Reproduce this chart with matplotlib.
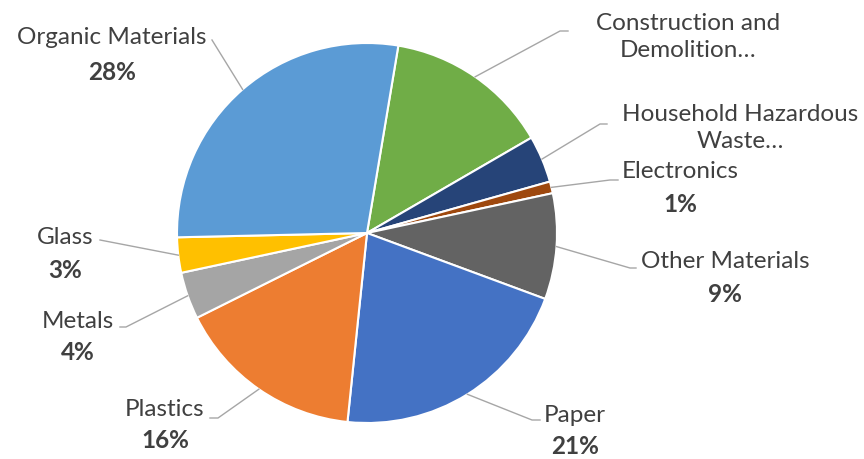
import numpy as np
import matplotlib
matplotlib.use('Agg')
from matplotlib import pyplot as plt

# 数据 (顺时针, 从 Construction 开始)
categories = ['Construction and\nDemolition\u2026', 'Household Hazardous\nWaste\u2026',
              'Electronics', 'Other Materials', 'Paper', 'Plastics',
              'Metals', 'Glass', 'Organic Materials']
values = [14, 4, 1, 9, 21, 16, 4, 3, 28]
pct_labels = ['', '', '1%', '9%', '21%', '16%', '4%', '3%', '28%']
colors = ['#70AD47', '#264478', '#9E480E', '#636363', '#4472C4',
          '#ED7D31', '#A5A5A5', '#FFC000', '#5B9BD5']

# 标签布局 (像素, 自上而下): 文字中心, 引线终点
W, H = 864, 459
name_pos = [(688, 37), (740, 128), (680, 172), (725, 262), (575, 416),
            (165, 410), (78, 321), (65, 237), (112, 38)]
pct_pos = [None, None, (680, 205), (725, 295), (575, 446),
           (165, 440), (78, 352), (65, 270), (112, 72)]
leader_end = [(560, 31, 568), (600, 124, 607), (610, 180, 618), (630, 268, 636),
              (532, 420, 540), (218, 418, 210), (126, 327, 120), (100, 240, 100),
              (212, 40, 212)]

plt.rcParams['font.family'] = ['Lato', 'DejaVu Sans']

fig = plt.figure(figsize=(W / 100, H / 100), dpi=100)
ax = fig.add_axes([0, 0, 1, 1])

cx, cy, r = 367, H - 233, 190
wedges, _ = ax.pie(values, colors=colors, startangle=80.5, counterclock=False,
                   center=(cx, cy), radius=r, frame=True,
                   wedgeprops=dict(edgecolor='white', linewidth=1.5))
ax.set_xlim(0, W)
ax.set_ylim(0, H)
ax.set_aspect('equal')
ax.axis('off')

for i, w in enumerate(wedges):
    mid = np.deg2rad((w.theta1 + w.theta2) / 2)
    x0, y0 = cx + r * np.cos(mid), cy + r * np.sin(mid)
    ex, ey, hx = leader_end[i]
    ax.plot([x0, ex, hx], [y0, H - ey, H - ey], color='#A6A6A6', lw=1)
    nx, ny = name_pos[i]
    ax.text(nx, H - ny, categories[i], ha='center', va='center',
            fontsize=17.5, color='#404040', linespacing=1.3)
    if pct_pos[i]:
        px, py = pct_pos[i]
        ax.text(px, H - py, pct_labels[i], ha='center', va='center',
                fontsize=17.5, fontweight='bold', color='#404040')

fig.savefig('out.png', dpi=100)
